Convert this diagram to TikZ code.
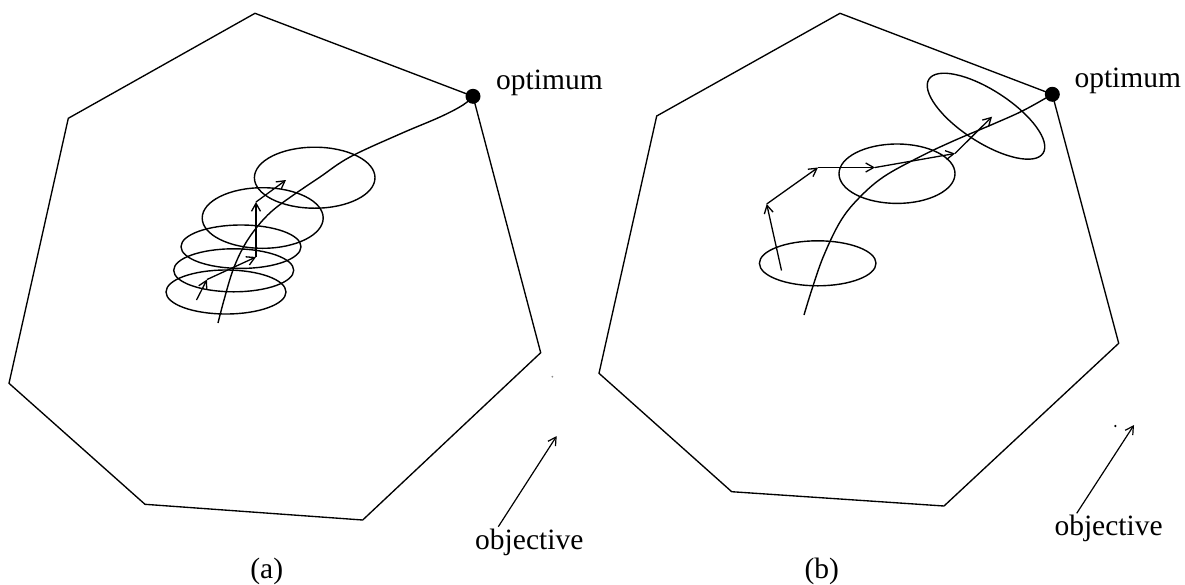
\documentclass[tikz,border=0pt]{standalone}
\usepackage{fontspec}
\setmainfont{Liberation Serif}
\usetikzlibrary{arrows.meta}
\begin{document}
\begin{tikzpicture}[x=1pt,y=-1pt,
  edge/.style={line width=1.35pt, line join=miter},
  ring/.style={line width=1.4pt},
  walk/.style={line width=1.3pt,-{Straight Barb[length=8pt,width=9pt]}},
  pointer/.style={line width=1.2pt,-{Straight Barb[length=8pt,width=9pt]}},
  route/.style={line width=1.4pt},
  optdot/.style={circle, fill=black, inner sep=0pt, minimum size=15pt},
  lbl/.style={font=\fontsize{29.5}{32}\selectfont, inner sep=0pt},
  speck/.style={circle, fill=black, inner sep=0pt, minimum size=2.5pt},
]
\useasboundingbox (0,0) rectangle (1185,584);

% ---------------- panel (a) ----------------
\coordinate (a1) at (255,13.3);
\coordinate (a2) at (473,96.3);
\coordinate (a3) at (540.7,352.7);
\coordinate (a4) at (362.7,520);
\coordinate (a5) at (145,504.3);
\coordinate (a6) at (9,383.3);
\coordinate (a7) at (68.3,118.3);
\draw[edge] (a1) -- (a2) -- (a3) -- (a4) -- (a5) -- (a6) -- (a7) -- cycle;

\draw[ring] (226,292) ellipse [x radius=60, y radius=22];
\draw[ring] (233.7,270.3) ellipse [x radius=60, y radius=21.5];
\draw[ring] (241,246.7) ellipse [x radius=60, y radius=21.7];
\draw[ring] (262.7,218) ellipse [x radius=60.5, y radius=30.3];
\draw[ring] (314.7,177.7) ellipse [x radius=60.3, y radius=30.5];

\draw[route] plot[smooth, tension=0.6] coordinates {(218,323) (224,300) (233,270) (244,246) (257,227) (272,211) (292,196) (320,177) (350,157) (400,134) (440,117) (463,105) (473,96.3)};

\coordinate (aw0) at (196.5,300);
\coordinate (aw1) at (207,279.5);
\coordinate (aw2) at (256,257);
\coordinate (aw3) at (256,202);
\coordinate (aw4) at (286,180);
\draw[walk] (aw0) -- (aw1);
\draw[walk] (aw1) -- (aw2);
\draw[walk] (aw2) -- (aw3);
\draw[walk] (aw3) -- (aw4);

\node[optdot] (optA) at (a2) {};
\node[lbl, anchor=base west] (optlabA) at (496,89.3) {optimum};

\node[lbl, anchor=base west] (objA) at (475,549.3) {objective};
\coordinate (objAtail) at (498.3,526.7);
\coordinate (objAtip) at (556.7,436);
\draw[pointer] (objAtail) -- (objAtip);
\node[speck, fill=black!45, minimum size=2pt] (speckA) at (552.3,376.7) {};

\node[lbl, anchor=base] (capA) at (266.7,578.5) {(a)};

% ---------------- panel (b) ----------------
\coordinate (b1) at (840,13.3);
\coordinate (b2) at (1052.3,94.3);
\coordinate (b3) at (1118.7,343.3);
\coordinate (b4) at (944,506);
\coordinate (b5) at (731.7,491.7);
\coordinate (b6) at (599,373.3);
\coordinate (b7) at (656.7,116);
\draw[edge] (b1) -- (b2) -- (b3) -- (b4) -- (b5) -- (b6) -- (b7) -- cycle;

\draw[ring] (817.7,263.3) ellipse [x radius=58.3, y radius=22.5];
\draw[ring] (897,173.7) ellipse [x radius=58, y radius=29.7];
\draw[ring, rotate around={-33:(986,116.2)}] (986,116.2) ellipse [x radius=68, y radius=26];

\draw[route] plot[smooth, tension=0.6] coordinates {(804,315) (811.7,290) (823.3,256.7) (840,222) (858,199) (883.3,177) (920,156.7) (953.3,141) (993.3,124) (1023.3,110.5) (1052.3,94.3)};

\coordinate (bw0) at (781.5,270.5);
\coordinate (bw1) at (766.7,204);
\coordinate (bw2) at (818,167.5);
\coordinate (bw3) at (875,167.5);
\coordinate (bw4) at (955,153.5);
\coordinate (bw5) at (992,116.7);
\draw[walk] (bw0) -- (bw1);
\draw[walk] (bw1) -- (bw2);
\draw[walk] (bw2) -- (bw3);
\draw[walk] (bw3) -- (bw4);
\draw[walk] (bw4) -- (bw5);

\node[optdot] (optB) at (b2) {};
\node[lbl, anchor=base west] (optlabB) at (1074.3,87.3) {optimum};

\node[lbl, anchor=base west] (objB) at (1054.3,535) {objective};
\coordinate (objBtail) at (1076.7,513.3);
\coordinate (objBtip) at (1134,425);
\draw[pointer] (objBtail) -- (objBtip);
\node[speck] (speckB) at (1115.3,426) {};

\node[lbl, anchor=base] (capB) at (821.7,578) {(b)};
\end{tikzpicture}
\end{document}
